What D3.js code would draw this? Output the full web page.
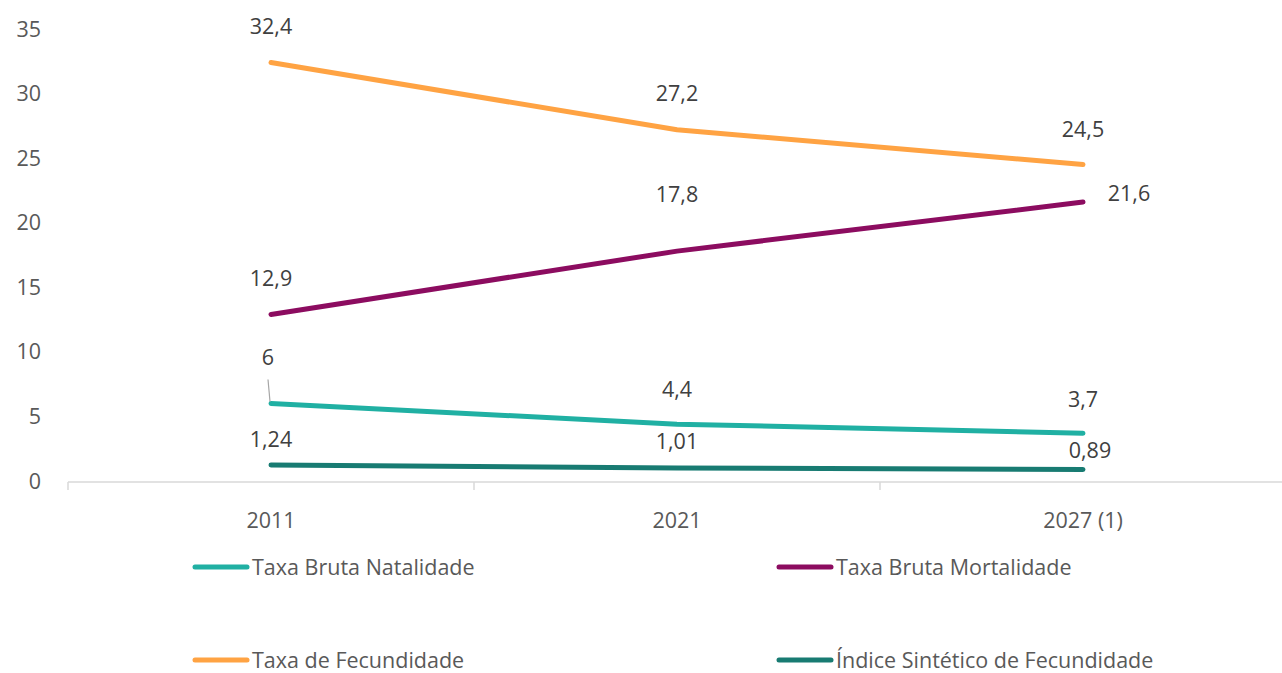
<!DOCTYPE html>
<html>
<head>
<meta charset="utf-8">
<script src="https://cdn.jsdelivr.net/npm/d3@7"></script>
<style>
  body { margin: 0; background: #fff; }
  svg text { font-family: "Open Sans", "Noto Sans", sans-serif; }
</style>
</head>
<body>
<script>
//chart data
var years = ["2011", "2021", "2027 (1)"];
var seriesNames = ["Taxa Bruta Natalidade", "Taxa Bruta Mortalidade", "Taxa de Fecundidade", "Índice Sintético de Fecundidade"];
var natalidade = [6, 4.4, 3.7];
var mortalidade = [12.9, 17.8, 21.6];
var fecundidade = [32.4, 27.2, 24.5];
var indice = [1.24, 1.01, 0.89];
var labels = [["6", "4,4", "3,7"], ["12,9", "17,8", "21,6"], ["32,4", "27,2", "24,5"], ["1,24", "1,01", "0,89"]];
var yTicks = [0, 5, 10, 15, 20, 25, 30, 35];

var colors = ["#20b0a3", "#8c0c60", "#ffa343", "#187b72"];

//label offsets relative to the point (dx, dy of text centre)
var labelOffsets = [
    [[-3, -46], [0, -35], [0, -34]],
    [[0, -36], [0, -57], [46, -9]],
    [[0, -36], [0, -36], [0, -35]],
    [[0, -26], [0, -26], [7, -19]]
];

window.onload = draw();

function draw(){
    var width = 1282, height = 673;
    var fs = "21.5px";

    var svg = d3.select("body")
        .append("svg")
        .attr("width", width)
        .attr("height", height);

    var x = d3.scalePoint()
        .domain(years)
        .range([68, 1286])
        .padding(0.5);

    var y = d3.scaleLinear()
        .domain([0, 35])
        .range([481, 29]);

    //y tick labels (no axis line)
    svg.selectAll(".ytick")
        .data(yTicks)
        .enter()
        .append("text")
        .attr("class", "ytick")
        .attr("x", 41)
        .attr("y", function(d){ return y(d); })
        .attr("dy", "0.35em")
        .attr("text-anchor", "end")
        .style("font-size", fs)
        .style("fill", "#595959")
        .text(function(d){ return d; });

    //x axis
    var xAxis = svg.append("g")
        .attr("transform", "translate(0," + 482 + ")");
    xAxis.append("line")
        .attr("x1", 68).attr("x2", 1286)
        .attr("stroke", "#d9d9d9").attr("stroke-width", 1.5);
    var bounds = [68, 68 + x.step(), 68 + 2 * x.step(), 68 + 3 * x.step()];
    xAxis.selectAll(".tk")
        .data(bounds)
        .enter()
        .append("line")
        .attr("x1", function(d){ return d; })
        .attr("x2", function(d){ return d; })
        .attr("y1", 0).attr("y2", 8)
        .attr("stroke", "#d9d9d9").attr("stroke-width", 1.5);
    xAxis.selectAll(".xl")
        .data(years)
        .enter()
        .append("text")
        .attr("x", function(d){ return x(d); })
        .attr("y", 46)
        .attr("text-anchor", "middle")
        .style("font-size", fs)
        .style("fill", "#595959")
        .text(function(d){ return d; });

    var allSeries = [natalidade, mortalidade, fecundidade, indice];
    var line = d3.line()
        .x(function(d, i){ return x(years[i]); })
        .y(function(d){ return y(d); });

    //draw order: indice, natalidade, mortalidade, fecundidade
    [3, 0, 1, 2].forEach(function(s){
        svg.append("path")
            .datum(allSeries[s])
            .attr("d", line)
            .attr("fill", "none")
            .attr("stroke", colors[s])
            .attr("stroke-width", 5)
            .attr("stroke-linecap", "round")
            .attr("stroke-linejoin", "round");
    });

    //leader line for the "6" label
    svg.append("line")
        .attr("x1", x(years[0]) - 3).attr("y1", y(natalidade[0]) - 24)
        .attr("x2", x(years[0]) - 1).attr("y2", y(natalidade[0]) - 2)
        .attr("stroke", "#a6a6a6").attr("stroke-width", 1.2);

    //data labels
    allSeries.forEach(function(series, s){
        svg.selectAll(".lbl" + s)
            .data(series)
            .enter()
            .append("text")
            .attr("x", function(d, i){ return x(years[i]) + labelOffsets[s][i][0]; })
            .attr("y", function(d, i){ return y(d) + labelOffsets[s][i][1]; })
            .attr("dy", "0.35em")
            .attr("text-anchor", "middle")
            .style("font-size", fs)
            .style("fill", "#404040")
            .text(function(d, i){ return labels[s][i]; });
    });

    //legend
    var legendPos = [[195, 567], [779, 567], [195, 660], [779, 660]];
    seriesNames.forEach(function(name, s){
        var g = svg.append("g")
            .attr("transform", "translate(" + legendPos[s][0] + "," + legendPos[s][1] + ")");
        g.append("line")
            .attr("x1", 0).attr("x2", 52)
            .attr("stroke", colors[s])
            .attr("stroke-width", 5)
            .attr("stroke-linecap", "round");
        g.append("text")
            .attr("x", 57)
            .attr("dy", "0.35em")
            .style("font-size", fs)
            .style("fill", "#595959")
            .text(name);
    });
}
</script>
</body>
</html>
